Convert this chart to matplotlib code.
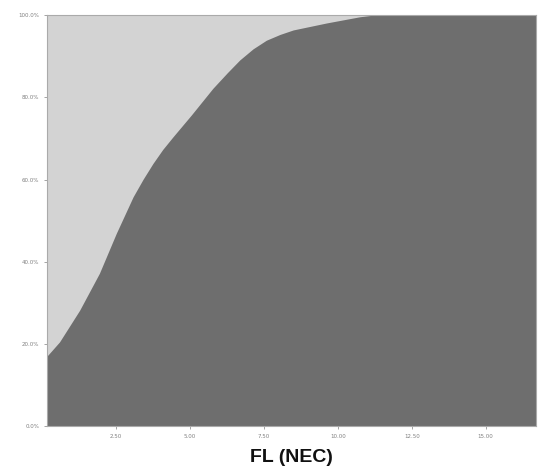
import matplotlib
matplotlib.use('Agg')
import matplotlib.pyplot as plt
from matplotlib.ticker import PercentFormatter

# cumulative share
fl = [0.15, 0.58, 1.26, 1.93, 2.50, 3.07, 3.41, 3.74, 4.07, 4.42, 5.04,
      5.77, 6.26, 6.68, 7.13, 7.58, 8.04, 8.49, 9.62, 10.74, 11.20, 16.70]
pct = [17.0, 20.5, 28.2, 37.2, 46.9, 55.8, 60.1, 63.9, 67.3, 70.4, 75.7,
       82.2, 86.0, 89.1, 91.8, 93.9, 95.3, 96.4, 98.1, 99.6, 100.0, 100.0]

xticks = [2.5, 5.0, 7.5, 10.0, 12.5, 15.0]
yticks = [0, 20, 40, 60, 80, 100]

fig = plt.figure(figsize=(5.38, 4.73), dpi=100)
ax = fig.add_axes([0.087, 0.099, 0.909, 0.869])
ax.set_facecolor('#d3d3d3')
ax.fill_between(fl, 0, pct, color='#6e6e6e', linewidth=0)

ax.set_xlim(0.15, 16.7)
ax.set_ylim(0, 100)
ax.set_xticks(xticks)
ax.set_xticklabels(['%.2f' % t for t in xticks])
ax.set_yticks(yticks)
ax.yaxis.set_major_formatter(PercentFormatter(decimals=1))
ax.tick_params(labelsize=4, colors='#808080', length=2, width=0.5)
for s in ax.spines.values():
    s.set_color('#aaaaaa')
    s.set_linewidth(0.8)

ax.set_xlabel('FL (NEC)', fontsize=14, fontweight='bold',
              family=['Liberation Sans', 'DejaVu Sans'], color='#111111',
              labelpad=7)

fig.savefig('out.png', dpi=100)
